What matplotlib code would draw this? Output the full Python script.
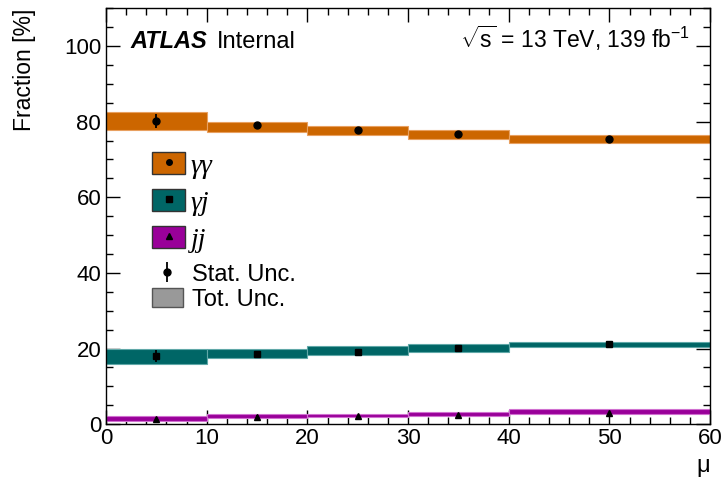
import matplotlib
matplotlib.use("Agg")
import matplotlib.pyplot as plt
import numpy as np
from matplotlib.lines import Line2D
from matplotlib.patches import Patch
from matplotlib.ticker import MultipleLocator

# bin edges in mu
edges = [0, 10, 20, 30, 40, 60]
# points drawn at these mu values
centers = [5, 15, 25, 35, 50]

# fractions [%]: central value, total-unc band (low, high), stat error
gg_val = [80.2, 79.0, 77.9, 76.8, 75.3]
gg_lo = [77.8, 77.2, 76.4, 75.5, 74.3]
gg_hi = [82.5, 80.0, 78.8, 77.7, 76.4]
gg_stat = [1.85, 0.5, 0.45, 0.45, 0.35]

gj_val = [18.0, 18.5, 19.2, 20.2, 21.1]
gj_lo = [15.8, 17.6, 18.3, 19.0, 20.3]
gj_hi = [20.0, 20.0, 20.7, 21.2, 21.8]
gj_stat = [1.6, 0.5, 0.45, 0.4, 0.35]

jj_val = [1.3, 2.0, 2.2, 2.5, 3.0]
jj_lo = [0.8, 1.6, 1.85, 2.2, 2.6]
jj_hi = [2.2, 2.6, 2.8, 3.25, 3.9]
jj_stat = [0.4, 0.3, 0.3, 0.3, 0.3]

plt.rcParams["font.family"] = ["Liberation Sans", "DejaVu Sans"]
plt.rcParams["mathtext.fontset"] = "custom"
plt.rcParams["mathtext.rm"] = "Liberation Sans"
plt.rcParams["mathtext.it"] = "Liberation Sans:italic"
plt.rcParams["mathtext.default"] = "regular"

fig = plt.figure(figsize=(7.21, 4.82), dpi=100)
ax = fig.add_axes([0.147, 0.120, 0.838, 0.863])

series = [
    ("γγ", "#cc6600", "#e8a060", "o", gg_val, gg_lo, gg_hi, gg_stat),
    ("γj", "#006666", "#60a8a8", "s", gj_val, gj_lo, gj_hi, gj_stat),
    ("jj", "#990099", "#d070d0", "^", jj_val, jj_lo, jj_hi, jj_stat),
]

left = np.array(edges[:-1])
widths = np.diff(edges)
handles = []
for name, col, edgecol, mk, val, lo, hi, stat in series:
    lo = np.array(lo)
    hi = np.array(hi)
    ax.bar(left, hi - lo, bottom=lo, width=widths, align="edge",
           color=col, edgecolor=edgecol, linewidth=0.8, zorder=2)
    ax.errorbar(centers, val, yerr=stat, fmt=mk, color="black",
                markersize=5, elinewidth=1.3, capsize=0, zorder=3)
    handles.append((Patch(facecolor=col, edgecolor="#333333", linewidth=1.0),
                    Line2D([], [], marker=mk, color="black", linestyle="none", markersize=4)))

ax.set_xlim(0, 60)
ax.set_ylim(0, 110)
ax.xaxis.set_major_locator(MultipleLocator(10))
ax.xaxis.set_minor_locator(MultipleLocator(2))
ax.yaxis.set_major_locator(MultipleLocator(20))
ax.yaxis.set_minor_locator(MultipleLocator(5))
ax.tick_params(which="both", direction="in", top=True, right=True, labelsize=16, width=1.0)
ax.tick_params(which="major", length=10)
ax.tick_params(which="minor", length=5)
ax.tick_params(axis="x", pad=3)
for sp in ax.spines.values():
    sp.set_linewidth(1.0)

ax.set_ylabel("Fraction [%]", fontsize=16.5, loc="top")
ax.yaxis.set_label_coords(-0.116, 1.0)
ax.set_xlabel("μ", fontsize=17, loc="right", labelpad=4)

ax.text(0.04, 0.905, "ATLAS", transform=ax.transAxes, fontsize=17,
        fontweight="bold", fontstyle="italic", va="baseline")
ax.text(0.184, 0.905, "Internal", transform=ax.transAxes, fontsize=17, va="baseline")
ax.text(0.967, 0.905, r"$\sqrt{s}$ = 13 TeV, 139 fb$^{-1}$", transform=ax.transAxes,
        fontsize=16.5, va="baseline", ha="right")

leg1 = ax.legend(handles, [s[0] for s in series], loc="upper left",
                 bbox_to_anchor=(0.076, 0.655), frameon=False,
                 handlelength=1.2, handleheight=0.88, labelspacing=0.36,
                 handletextpad=0.2, borderaxespad=0, borderpad=0,
                 prop={"family": "Liberation Serif", "style": "italic", "size": 20})
ax.add_artist(leg1)

stat_h = (Line2D([], [], marker="|", color="black", linestyle="none", markersize=14, markeredgewidth=1.3),
          Line2D([], [], marker="o", color="black", linestyle="none", markersize=5))
tot_h = Patch(facecolor="#999999", edgecolor="#555555", linewidth=1.0)
ax.legend([stat_h, tot_h], ["Stat. Unc.", "Tot. Unc."], loc="upper left",
          bbox_to_anchor=(0.076, 0.388), frameon=False,
          handlelength=1.3, handleheight=0.9, labelspacing=0.08,
          handletextpad=0.4, borderaxespad=0, borderpad=0, fontsize=17)

fig.savefig("out.png", dpi=100)
